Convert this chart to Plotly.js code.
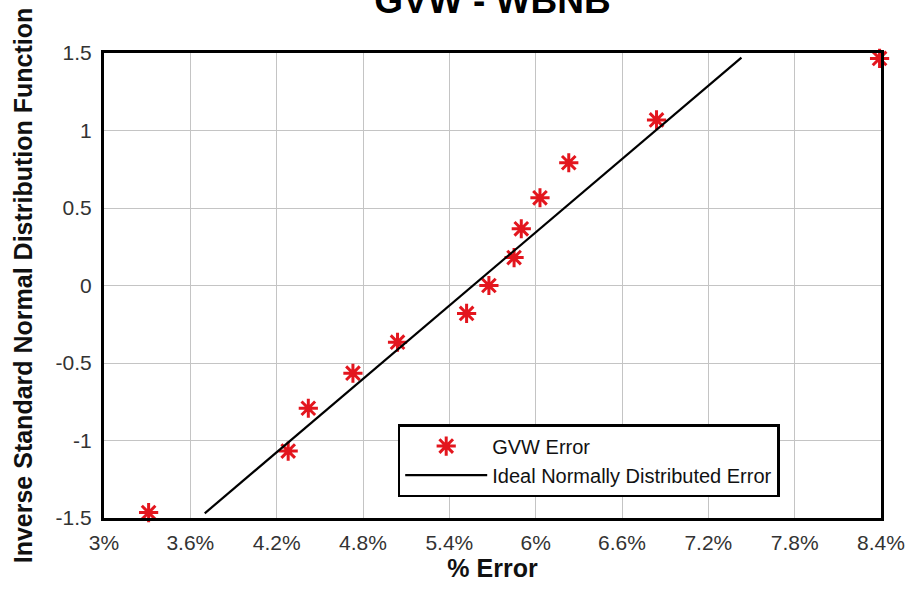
<!DOCTYPE html>
<html>
<head>
<meta charset="utf-8">
<script src="https://cdn.plot.ly/plotly-3.0.1.min.js"></script>
<style>html,body{margin:0;padding:0;background:#fff;}#chart{width:910px;height:591px;}</style>
</head>
<body>
<div id="chart"></div>
<script>
// Observed % error and inverse standard normal values
const errorPct = [3.31, 4.28, 4.42, 4.73, 5.04, 5.52, 5.675, 5.85, 5.90, 6.03, 6.23, 6.84, 8.39];
const invNormal = [-1.465, -1.068, -0.792, -0.566, -0.366, -0.180, 0, 0.180, 0.366, 0.566, 0.792, 1.068, 1.465];
// Ideal normally distributed error line
const idealX = [3.70, 7.43];
const idealY = [-1.47, 1.47];
// Tick labels
const xTickVals = [3, 3.6, 4.2, 4.8, 5.4, 6, 6.6, 7.2, 7.8, 8.4];
const xTickText = ['3%', '3.6%', '4.2%', '4.8%', '5.4%', '6%', '6.6%', '7.2%', '7.8%', '8.4%'];
const yTickVals = [-1.5, -1, -0.5, 0, 0.5, 1, 1.5];
const yTickText = ['-1.5', '-1', '-0.5', '0', '0.5', '1', '1.5'];

const traces = [
  {
    x: errorPct, y: invNormal, type: 'scatter', mode: 'markers', name: 'GVW Error',
    cliponaxis: false,
    marker: {symbol: 'asterisk-open', size: 16, color: '#e3161e', line: {color: '#e3161e', width: 3}}
  },
  {
    x: idealX, y: idealY, type: 'scatter', mode: 'lines', name: 'Ideal Normally Distributed Error',
    line: {color: '#000', width: 2.2}
  }
];

const font = 'Arial, "Liberation Sans", sans-serif';
const layout = {
  width: 910, height: 591,
  paper_bgcolor: '#fff', plot_bgcolor: '#fff',
  margin: {l: 104, r: 29, t: 53, b: 73},
  font: {family: font, color: '#222'},
  title: {text: '<b>GVW - WBNB</b>', x: 0.5, xref: 'paper', y: 1, yref: 'container', yanchor: 'middle',
          font: {family: font, size: 37, color: '#000'}},
  xaxis: {
    range: [3, 8.4], tickvals: xTickVals, ticktext: xTickText,
    showgrid: true, gridcolor: '#c4c4c4', gridwidth: 1, zeroline: false,
    showline: true, linecolor: '#000', linewidth: 3, mirror: true, ticks: '',
    ticklabelstandoff: 4,
    tickfont: {size: 21, color: '#333'},
    title: {text: '<b>% Error</b>', font: {size: 25, color: '#111'}, standoff: 4}
  },
  yaxis: {
    range: [-1.5, 1.5], tickvals: yTickVals, ticktext: yTickText,
    showgrid: true, gridcolor: '#c4c4c4', gridwidth: 1, zeroline: false,
    showline: true, linecolor: '#000', linewidth: 3, mirror: true, ticks: '',
    ticklabelstandoff: 5,
    tickfont: {size: 21, color: '#333'},
    title: {text: '<b>Inverse Standard Normal Distribution Function</b>', font: {size: 25, color: '#111'}, standoff: 16}
  },
  showlegend: true,
  legend: {
    x: 0.378, y: 0.045, xanchor: 'left', yanchor: 'bottom',
    bgcolor: '#fff', bordercolor: '#000', borderwidth: 2.5,
    font: {size: 20, color: '#111'}, itemwidth: 82, tracegroupgap: 0
  }
};

Plotly.newPlot('chart', traces, layout, {displayModeBar: false, staticPlot: true});
</script>
</body>
</html>
